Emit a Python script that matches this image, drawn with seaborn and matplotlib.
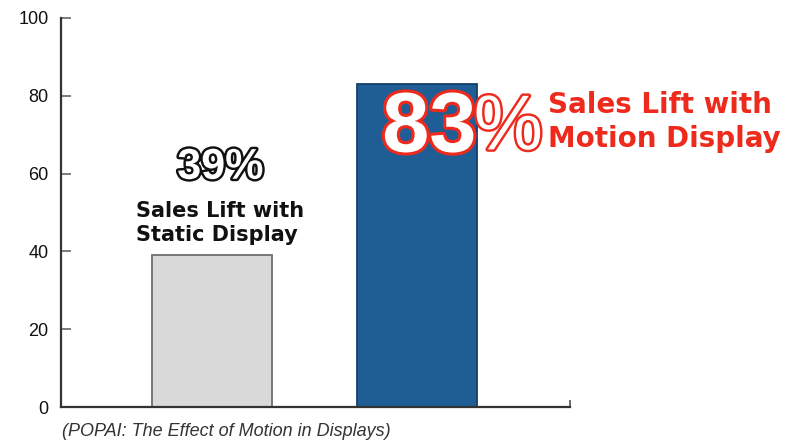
import matplotlib
matplotlib.use("Agg")
import matplotlib.pyplot as plt
import matplotlib.patheffects as pe
import seaborn as sns
import pandas as pd

# Chart data
categories = ["Static Display", "Motion Display"]
sales_lift = [39, 83]
bar_colors = ["#d9d9d9", "#1e5e95"]
edge_colors = ["#6e6e6e", "#17406b"]
y_ticks = [0, 20, 40, 60, 80, 100]
source_note = "(POPAI: The Effect of Motion in Displays)"

sns.set_theme(style="white")
plt.rcParams['font.family'] = ['Liberation Sans', 'DejaVu Sans']

df = pd.DataFrame({"display": categories, "lift": sales_lift})

fig = plt.figure(figsize=(7.94, 4.43), dpi=100)
ax = fig.add_axes([61 / 794, 36 / 443, 509 / 794, 389 / 443])

sns.barplot(data=df, x="display", y="lift", hue="display", palette=bar_colors,
            width=0.585, legend=False, ax=ax, saturation=1)
for patch, ec in zip(ax.patches, edge_colors):
    patch.set_edgecolor(ec)
    patch.set_linewidth(1.3)

ax.set_xlim(-0.737, 1.746)
ax.set_ylim(0, 100)
ax.set_yticks(y_ticks)
ax.set_yticklabels([str(t) for t in y_ticks], fontsize=13, color="#111111",
                   family=['Liberation Sans Narrow', 'Liberation Sans'])
ax.set_xticks([1.746])
ax.set_xticklabels([""])
ax.tick_params(axis="y", direction="in", length=7, width=1.2, color="#666666", pad=9, left=True)
ax.tick_params(axis="x", direction="in", length=5, width=1.2, color="#555555", bottom=True)
ax.set_xlabel("")
ax.set_ylabel("")
for side in ["top", "right"]:
    ax.spines[side].set_visible(False)
for side in ["left", "bottom"]:
    ax.spines[side].set_color("#333333")
    ax.spines[side].set_linewidth(1.6)

# Static display labels
outline_black = [pe.withStroke(linewidth=3.5, foreground="#111111")]
ax.text(0.04, 61.5, "39%", ha="center", va="center", fontsize=31, fontweight="bold",
        color="white", path_effects=outline_black,
        family=['Liberation Sans Narrow', 'Liberation Sans'])
ax.text(0.04, 47.3, "Sales Lift with\nStatic Display", ha="center", va="center",
        fontsize=15, fontweight="bold", color="#111111", linespacing=1.2,
        family=['DejaVu Sans'], multialignment="left")

# Motion display labels
outline_red = [pe.withStroke(linewidth=4.5, foreground="#ee2a1c")]
ax.text(1.06, 71.3, "83", ha="center", va="center", fontsize=61, fontweight="bold",
        color="white", path_effects=outline_red,
        family=['Liberation Sans Narrow', 'Liberation Sans'])
ax.text(1.445, 71.5, "%", ha="center", va="center", fontsize=56,
        color="white", path_effects=[pe.withStroke(linewidth=3.5, foreground="#ee2a1c")],
        family=['Liberation Sans Narrow', 'Liberation Sans'])
ax.text(1.639, 73.3, "Sales Lift with\nMotion Display", ha="left", va="center",
        fontsize=20, fontweight="bold", color="#ee2a1c", linespacing=1.25,
        family=['DejaVu Sans'], clip_on=False)

fig.text(62 / 794, 1 - 432 / 443, source_note, ha="left", va="center",
         fontsize=13, style="italic", color="#333333")

fig.savefig("out.png", dpi=100)
